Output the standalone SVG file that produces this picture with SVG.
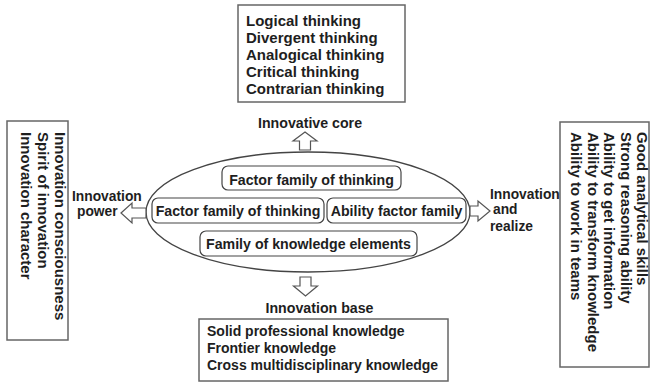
<svg xmlns="http://www.w3.org/2000/svg" width="651" height="385" viewBox="0 0 651 385">
<style>
text{font-family:"Liberation Sans",Arial,sans-serif;font-weight:bold;fill:#1e1e1e}
.t15{font-size:15px}
.t14{font-size:14.2px}
.t13{font-size:13.8px}
.b14{font-size:14px}
.mid{text-anchor:middle}
.box{fill:#fff;stroke:#666;stroke-width:1.5}
.inner{fill:#fff;stroke:#444;stroke-width:1.2}
.arr{fill:#fff;stroke:#555;stroke-width:1.2;stroke-linejoin:miter}
</style>
<rect width="651" height="385" fill="#fff"/>
<g id="core-ellipse">
<ellipse cx="308" cy="212" rx="162" ry="60" fill="#fff" stroke="#444" stroke-width="1.3"/>
</g>
<g id="node-thinking-top">
<rect class="inner" x="222" y="166" width="179" height="24" rx="6"/>
<text class="t14 mid" x="311.5" y="185">Factor family of thinking</text>
</g>
<g id="node-thinking-left">
<rect class="inner" x="152" y="198" width="172" height="25" rx="6"/>
<text class="t14 mid" x="238" y="216">Factor family of thinking</text>
</g>
<g id="node-ability">
<rect class="inner" x="327" y="198" width="139" height="25" rx="6"/>
<text class="t14 mid" x="396.5" y="216">Ability factor family</text>
</g>
<g id="node-knowledge">
<rect class="inner" x="200" y="231" width="217" height="25" rx="6"/>
<text class="t14 mid" x="308.5" y="249">Family of knowledge elements</text>
</g>
<g id="node-top">
<rect class="box" x="238" y="5" width="167" height="97"/>
<text class="t15" x="246" y="26">Logical thinking</text>
<text class="t15" x="246" y="43">Divergent thinking</text>
<text class="t15" x="246" y="60">Analogical thinking</text>
<text class="t15" x="246" y="77">Critical thinking</text>
<text class="t15" x="246" y="94">Contrarian thinking</text>
</g>
<g id="node-bottom">
<rect class="box" x="199" y="319" width="249" height="62"/>
<text class="b14" x="207" y="336">Solid professional knowledge</text>
<text class="b14" x="207" y="353">Frontier knowledge</text>
<text class="b14" x="207" y="370">Cross multidisciplinary knowledge</text>
</g>
<g id="node-left">
<rect class="box" x="7" y="121" width="61" height="219"/>
<text class="t15" transform="translate(55,132) rotate(90)">Innovation consciousness</text>
<text class="t15" transform="translate(38,132) rotate(90)">Spirit of innovation</text>
<text class="t15" transform="translate(21,132) rotate(90)">Innovation character</text>
</g>
<g id="node-right">
<rect class="box" x="560" y="122" width="89" height="245"/>
<text class="t15" transform="translate(637,132) rotate(90)">Good analytical skills</text>
<text class="t15" transform="translate(620.5,132) rotate(90)">Strong reasoning ability</text>
<text class="t15" transform="translate(604,132) rotate(90)">Ability to get information</text>
<text class="t15" transform="translate(587.5,132) rotate(90)">Ability to transform knowledge</text>
<text class="t15" transform="translate(571,132) rotate(90)">Ability to work in teams</text>
</g>
<g id="connectors">
<path class="arr" d="M305,132 L317,141 L310.5,141 L310.5,150 L299.5,150 L299.5,141 L293,141 Z"/>
<path class="arr" d="M300,277 L311,277 L311,286 L317.5,286 L305.5,296 L293.5,286 L300,286 Z"/>
<path class="arr" d="M121,213 L132,203 L132,208 L146,208 L146,218 L132,218 L132,223 Z"/>
<path class="arr" d="M470,206 L478,206 L478,201 L490,211 L478,221 L478,216 L470,216 Z"/>
<text class="t14 mid" x="310" y="128">Innovative core</text>
<text class="t14 mid" x="319.5" y="313">Innovation base</text>
<text class="t13" x="72" y="201">Innovation</text>
<text class="t13" x="77" y="216">power</text>
<text class="t13" x="490" y="199">Innovation</text>
<text class="t13" x="493" y="214">and</text>
<text class="t13" x="490" y="231">realize</text>
</g>
</svg>
